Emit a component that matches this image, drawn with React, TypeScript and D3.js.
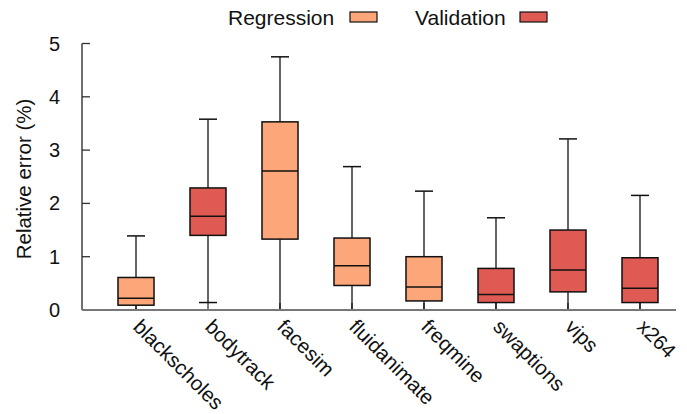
import React from "react";
import * as d3 from "d3";

const categories = ["blackscholes", "bodytrack", "facesim", "fluidanimate", "freqmine", "swaptions", "vips", "x264"];
const groups = ["Regression", "Validation", "Regression", "Regression", "Regression", "Validation", "Validation", "Validation"];
const whiskerLow = [0, 0.14, 0, 0, 0, 0, 0, 0];
const boxLow = [0.09, 1.4, 1.33, 0.46, 0.17, 0.14, 0.34, 0.14];
const medians = [0.22, 1.76, 2.61, 0.83, 0.43, 0.29, 0.75, 0.41];
const boxHigh = [0.61, 2.29, 3.53, 1.35, 1.0, 0.78, 1.5, 0.98];
const whiskerHigh = [1.39, 3.58, 4.75, 2.69, 2.23, 1.73, 3.21, 2.15];
const yTicks = [0, 1, 2, 3, 4, 5];
const legendItems = ["Regression", "Validation"];
const colors: Record<string, string> = { Regression: "#fca679", Validation: "#e05a54" };

const W = 687;
const H = 414;
const FONT = "'Liberation Sans', Arial, Helvetica, sans-serif";

export default function App() {
  const x = d3.scaleBand<string>().domain(categories).range([100, 676]).padding(0);
  const y = d3.scaleLinear().domain([0, 5]).range([310, 43.5]);
  const axisLeft = 82;
  const bw = x.bandwidth();
  const boxW = bw * 0.5;
  const capW = bw * 0.25;

  return (
    <svg width={W} height={H} style={{ position: "absolute", left: 0, top: 0, background: "#fff" }} fontFamily={FONT}>
      {/* y axis */}
      <line x1={axisLeft} x2={axisLeft} y1={y(0)} y2={y(5)} stroke="#222" strokeWidth={1.3} />
      {yTicks.map((t) => (
        <g key={t}>
          <line x1={axisLeft} x2={axisLeft + 8} y1={y(t)} y2={y(t)} stroke="#333" strokeWidth={1.3} />
          <text x={60} y={y(t)} textAnchor="end" dominantBaseline="central" fontSize={20} fill="#111">
            {t}
          </text>
        </g>
      ))}
      <text transform={`translate(31,179) rotate(-90)`} textAnchor="middle" fontSize={20.5} fill="#111">
        Relative error (%)
      </text>

      {/* x tick marks */}
      {categories.map((c) => {
        const cx = (x(c) as number) + bw / 2;
        return <line key={"t" + c} x1={cx} x2={cx} y1={y(0)} y2={y(0) - 7} stroke="#333" strokeWidth={1.3} />;
      })}

      {/* boxes */}
      {categories.map((c, i) => {
        const cx = (x(c) as number) + bw / 2;
        return (
          <g key={c}>
            <line x1={cx} x2={cx} y1={y(boxHigh[i])} y2={y(whiskerHigh[i])} stroke="#111" strokeWidth={1.3} />
            <line x1={cx} x2={cx} y1={y(boxLow[i])} y2={y(whiskerLow[i])} stroke="#111" strokeWidth={1.3} />
            <line x1={cx - capW / 2} x2={cx + capW / 2} y1={y(whiskerHigh[i])} y2={y(whiskerHigh[i])} stroke="#111" strokeWidth={1.5} />
            <line x1={cx - capW / 2} x2={cx + capW / 2} y1={y(whiskerLow[i])} y2={y(whiskerLow[i])} stroke="#111" strokeWidth={1.5} />
            <rect
              x={cx - boxW / 2}
              y={y(boxHigh[i])}
              width={boxW}
              height={y(boxLow[i]) - y(boxHigh[i])}
              fill={colors[groups[i]]}
              stroke="#111"
              strokeWidth={1.5}
            />
            <line x1={cx - boxW / 2} x2={cx + boxW / 2} y1={y(medians[i])} y2={y(medians[i])} stroke="#111" strokeWidth={1.5} />
          </g>
        );
      })}

      {/* x axis */}
      <line x1={axisLeft} x2={676} y1={y(0)} y2={y(0)} stroke="#777" strokeWidth={2} />

      {/* x labels */}
      {categories.map((c) => {
        const cx = (x(c) as number) + bw / 2;
        return (
          <text key={"l" + c} transform={`translate(${cx - 4},${y(0) + 18}) rotate(45)`} fontSize={20.5} fill="#111">
            {c}
          </text>
        );
      })}

      {/* legend */}
      {legendItems.map((g, i) => {
        const tx = i === 0 ? 228 : 415;
        const sx = i === 0 ? 350 : 520;
        return (
          <g key={g}>
            <text x={tx} y={25} fontSize={21} fill="#111">
              {g}
            </text>
            <rect x={sx} y={12} width={27} height={10} fill={colors[g]} stroke="#111" strokeWidth={1.2} />
          </g>
        );
      })}
    </svg>
  );
}
